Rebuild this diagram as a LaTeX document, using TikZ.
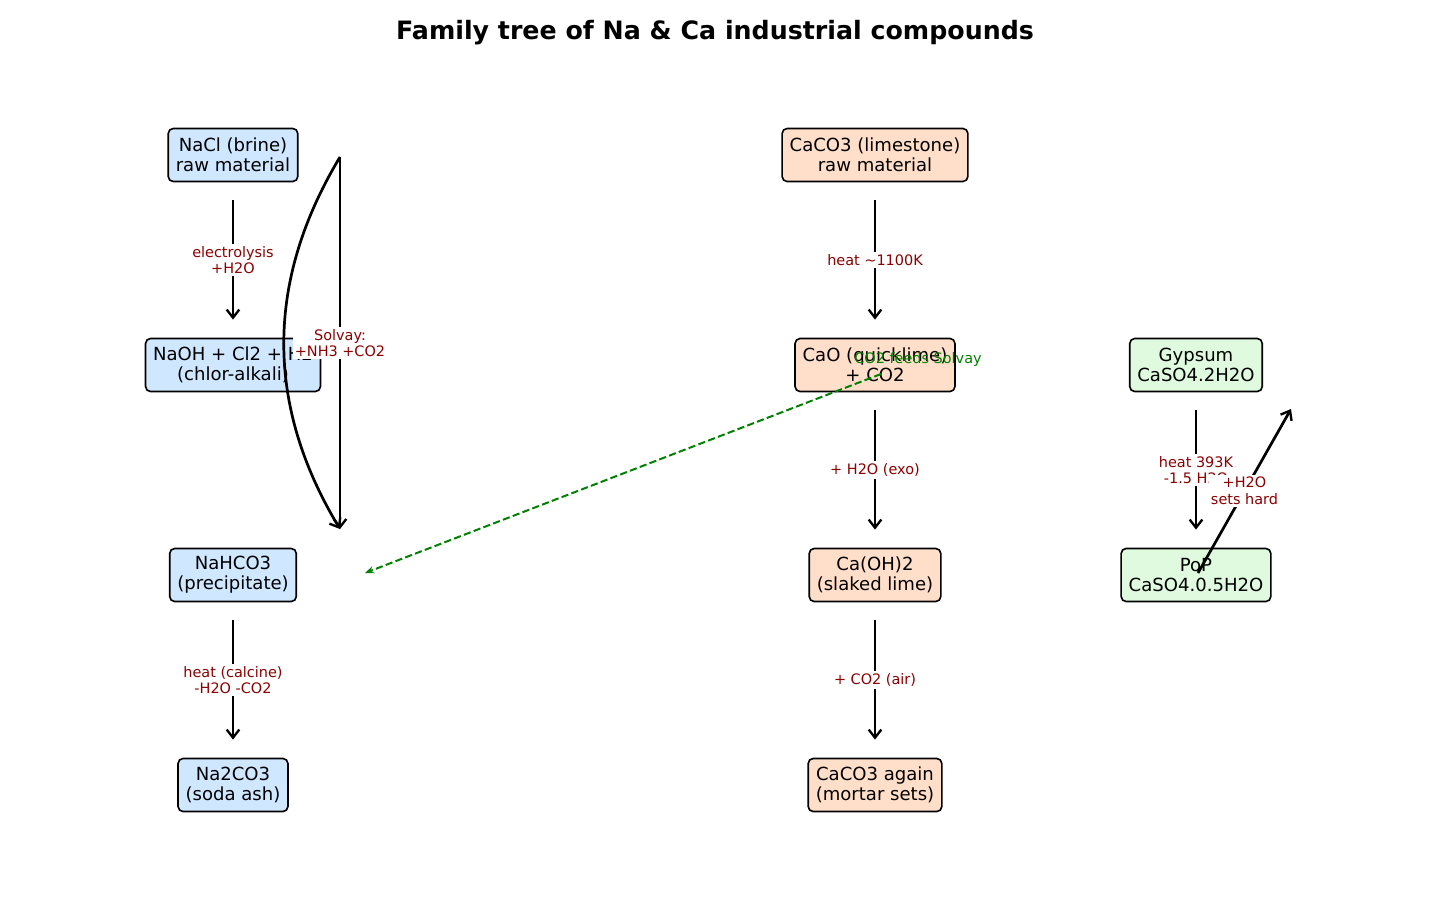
\documentclass[tikz,border=0pt]{standalone}
\usepackage{fontspec}
\setmainfont{DejaVu Sans}
\usetikzlibrary{arrows.meta}
\definecolor{nablue}{HTML}{CFE7FF}
\definecolor{capeach}{HTML}{FFDFCA}
\definecolor{gygreen}{HTML}{DFFADF}
\definecolor{lblred}{HTML}{8B0000}
\definecolor{grn}{HTML}{008000}
\tikzset{
  box/.style={draw=black, line width=0.9pt, rounded corners=2.8pt, align=center,
    font=\fontsize{10}{11.2}\selectfont, minimum height=29.4pt, inner xsep=4.2pt, inner ysep=3pt},
  nabox/.style={box, fill=nablue},
  cabox/.style={box, fill=capeach},
  gybox/.style={box, fill=gygreen},
  arr/.style={line width=1.5pt, -{Straight Barb[length=4.5pt,width=7pt,line width=1.3pt]}},
  flow/.style={arr, shorten <=10pt, shorten >=10pt},
  lbl/.style={fill=white, text=lblred, align=center, font=\fontsize{8}{9.2}\selectfont, inner sep=1.2pt},
}
\begin{document}
\begin{tikzpicture}[x=0.5538pt, y=-0.5538pt]
\useasboundingbox (0,0) rectangle (1430,910);
\node[font=\bfseries\fontsize{14}{16}\selectfont] (title) at (715,33) {Family tree of Na \& Ca industrial compounds};

\node[nabox] (nacl) at (233,155) {NaCl (brine)\\raw material};
\node[nabox] (naoh) at (233,365) {NaOH + Cl2 + H2\\(chlor-alkali)};
\node[nabox] (nahco3) at (233,575) {NaHCO3\\(precipitate)};
\node[nabox] (na2co3) at (233,785) {Na2CO3\\(soda ash)};

\node[cabox] (caco3) at (875,155) {CaCO3 (limestone)\\raw material};
\node[cabox] (cao) at (875,365) {CaO (quicklime)\\+ CO2};
\node[cabox] (caoh2) at (875,575) {Ca(OH)2\\(slaked lime)};
\node[cabox] (caco3b) at (875,785) {CaCO3 again\\(mortar sets)};

\node[gybox] (gyp) at (1196,365) {Gypsum\\CaSO4.2H2O};
\node[gybox] (pop) at (1196,575) {PoP\\CaSO4.0.5H2O};

\coordinate (solvayTop) at (340,157);
\coordinate (solvayBot) at (340,529);
\coordinate (co2start) at (881,374);
\coordinate (co2end) at (365,573);
\coordinate (popstart) at (1198,573);
\coordinate (popend) at (1291,409);

\draw[flow] (nacl) -- node[lbl] {electrolysis\\+H2O} (naoh);
\draw[flow] (nahco3) -- node[lbl] {heat (calcine)\\-H2O -CO2} (na2co3);
\draw[flow] (caco3) -- node[lbl] {heat \textasciitilde1100K} (cao);
\draw[flow] (cao) -- node[lbl] {+ H2O (exo)} (caoh2);
\draw[flow] (caoh2) -- node[lbl] {+ CO2 (air)} (caco3b);
\draw[flow] (gyp) -- node[lbl] {heat 393K\\-1.5 H2O} (pop);

\draw[arr] (solvayTop) .. controls (265.3,281) and (265.3,405) .. (solvayBot);
\draw[arr] (solvayTop) -- node[lbl] {Solvay:\\+NH3 +CO2} (solvayBot);

\draw[grn, line width=1.1pt, dash pattern=on 4pt off 1.8pt, -{Stealth[length=5pt,width=4pt]}] (co2start) -- (co2end);
\node[text=grn, font=\fontsize{8}{9.2}\selectfont] (co2lbl) at (918,360) {CO2 feeds Solvay};

\draw[arr] (popstart) -- node[lbl] {+H2O\\sets hard} (popend);
\end{tikzpicture}
\end{document}
